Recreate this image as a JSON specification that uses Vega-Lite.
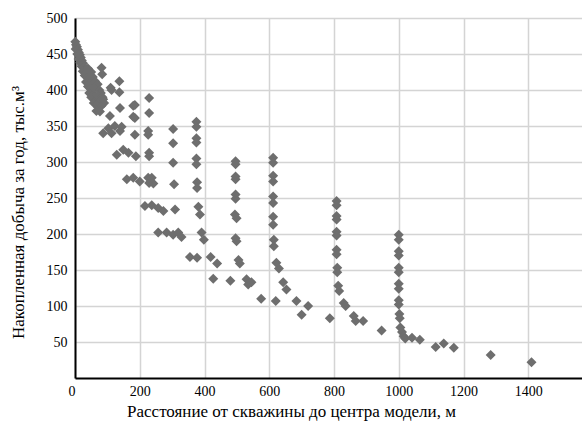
{
  "$schema": "https://vega.github.io/schema/vega-lite/v6.json",
  "width": 507,
  "height": 360,
  "autosize": "none",
  "padding": {"left": 75, "top": 18, "right": 0, "bottom": 46},
  "background": "white",
  "config": {"view": {"stroke": null}, "font": "Liberation Serif"},
  "data": {"values": [
    {"x":1,"y":467},{"x":3,"y":463},{"x":6,"y":460},{"x":2,"y":457},{"x":9,"y":456},{"x":12,"y":452},{"x":7,"y":450},{"x":15,"y":449},{"x":18,"y":445},{"x":11,"y":443},{"x":21,"y":441},{"x":16,"y":438},{"x":25,"y":437},{"x":20,"y":433},{"x":28,"y":432},{"x":32,"y":428},{"x":24,"y":426},{"x":35,"y":424},{"x":30,"y":420},{"x":38,"y":418},{"x":42,"y":414},{"x":34,"y":411},{"x":45,"y":409},{"x":40,"y":405},{"x":48,"y":402},{"x":52,"y":399},{"x":44,"y":396},{"x":56,"y":394},{"x":50,"y":390},{"x":60,"y":389},{"x":64,"y":385},{"x":58,"y":382},{"x":68,"y":380},{"x":72,"y":376},{"x":66,"y":371},
    {"x":40,"y":430},{"x":50,"y":425},{"x":55,"y":418},{"x":62,"y":412},{"x":70,"y":408},{"x":60,"y":403},{"x":75,"y":400},{"x":80,"y":396},{"x":70,"y":392},{"x":85,"y":390},{"x":78,"y":386},{"x":90,"y":382},{"x":82,"y":378},
    {"x":82,"y":431},{"x":84,"y":422},{"x":113,"y":400},{"x":110,"y":403},{"x":137,"y":412},{"x":137,"y":397},{"x":139,"y":375},{"x":87,"y":387},{"x":77,"y":370},{"x":108,"y":364},{"x":180,"y":378},{"x":180,"y":363},
    {"x":229,"y":389},{"x":229,"y":368},{"x":226,"y":343},{"x":226,"y":338},{"x":229,"y":313},{"x":229,"y":308},{"x":226,"y":278},{"x":229,"y":271},
    {"x":185,"y":379},{"x":185,"y":361},{"x":185,"y":338},{"x":188,"y":308},{"x":144,"y":349},{"x":123,"y":350},{"x":103,"y":347},{"x":87,"y":340},{"x":113,"y":340},{"x":139,"y":343},
    {"x":129,"y":310},{"x":149,"y":317},{"x":165,"y":313},{"x":160,"y":276},{"x":180,"y":278},{"x":200,"y":273},{"x":242,"y":270},{"x":237,"y":278},{"x":216,"y":239},{"x":237,"y":240},{"x":257,"y":236},{"x":273,"y":232},
    {"x":303,"y":346},{"x":303,"y":326},{"x":303,"y":299},{"x":306,"y":269},{"x":309,"y":234},
    {"x":375,"y":356},{"x":375,"y":349},{"x":375,"y":333},{"x":375,"y":327},{"x":375,"y":305},{"x":375,"y":297},{"x":377,"y":272},{"x":377,"y":264},{"x":381,"y":238},{"x":386,"y":227},{"x":391,"y":202},{"x":398,"y":192},
    {"x":257,"y":202},{"x":283,"y":202},{"x":303,"y":199},{"x":319,"y":202},{"x":329,"y":196},
    {"x":355,"y":168},{"x":377,"y":167},{"x":419,"y":168},{"x":439,"y":159},
    {"x":427,"y":138},{"x":480,"y":135},{"x":530,"y":137},{"x":535,"y":130},{"x":545,"y":133},{"x":575,"y":110},
    {"x":496,"y":301},{"x":496,"y":297},{"x":496,"y":280},{"x":496,"y":276},{"x":496,"y":255},{"x":496,"y":249},{"x":494,"y":227},{"x":499,"y":222},{"x":496,"y":194},{"x":499,"y":190},{"x":505,"y":164},{"x":509,"y":159},
    {"x":612,"y":306},{"x":612,"y":299},{"x":612,"y":281},{"x":612,"y":273},{"x":612,"y":252},{"x":612,"y":243},{"x":612,"y":224},{"x":612,"y":213},{"x":614,"y":192},{"x":614,"y":183},{"x":622,"y":160},{"x":630,"y":152},{"x":643,"y":133},{"x":653,"y":123},
    {"x":620,"y":107},{"x":684,"y":107},{"x":700,"y":88},{"x":720,"y":100},{"x":787,"y":83},{"x":947,"y":66},
    {"x":808,"y":246},{"x":808,"y":240},{"x":808,"y":225},{"x":808,"y":220},{"x":808,"y":203},{"x":808,"y":198},{"x":808,"y":178},{"x":808,"y":172},{"x":810,"y":153},{"x":810,"y":147},{"x":813,"y":128},{"x":816,"y":121},{"x":830,"y":104},{"x":836,"y":100},{"x":861,"y":86},{"x":867,"y":79},{"x":890,"y":79},
    {"x":1000,"y":199},{"x":1000,"y":192},{"x":1000,"y":176},{"x":1000,"y":170},{"x":1000,"y":153},{"x":1000,"y":147},{"x":1000,"y":131},{"x":1000,"y":124},{"x":1000,"y":108},{"x":1000,"y":102},{"x":1002,"y":89},{"x":1003,"y":83},{"x":1005,"y":70},{"x":1010,"y":64},{"x":1015,"y":58},{"x":1020,"y":55},
    {"x":1041,"y":56},{"x":1065,"y":53},{"x":1114,"y":43},{"x":1139,"y":48},{"x":1170,"y":42},{"x":1284,"y":32},{"x":1410,"y":22}
  ]},
  "mark": {"type": "point", "shape": "diamond", "filled": true, "size": 100, "color": "#6e6e6e", "opacity": 1},
  "encoding": {
    "x": {
      "field": "x", "type": "quantitative",
      "scale": {"domain": [0, 1566], "nice": false, "zero": true},
      "axis": {
        "values": [0, 200, 400, 600, 800, 1000, 1200, 1400],
        "format": "d",
        "title": "Расстояние от скважины до центра модели, м",
        "grid": true, "gridColor": "#d4d4d4", "gridWidth": 1.5,
        "domainColor": "#000000", "domainWidth": 2,
        "ticks": false,
        "labelFont": "Liberation Serif", "labelFontSize": 14, "labelColor": "#000000", "labelPadding": 6,
        "labelAlign": {"condition": {"test": "datum.value === 0", "value": "right"}, "value": "center"},
        "titleFont": "Liberation Serif", "titleFontSize": 17, "titleFontWeight": "normal", "titleColor": "#000000",
        "titleX": 216, "titleY": 38, "titleBaseline": "alphabetic", "titleAnchor": "middle", "titleAlign": "center"
      }
    },
    "y": {
      "field": "y", "type": "quantitative",
      "scale": {"domain": [0, 500], "nice": false},
      "axis": {
        "values": [50, 100, 150, 200, 250, 300, 350, 400, 450, 500],
        "title": "Накопленная добыча за год, тыс.м³",
        "grid": true, "gridColor": "#d4d4d4", "gridWidth": 1.5,
        "domainColor": "#000000", "domainWidth": 2,
        "ticks": false,
        "labelFont": "Liberation Serif", "labelFontSize": 14, "labelColor": "#000000", "labelPadding": 8,
        "titleFont": "Liberation Serif", "titleFontSize": 17, "titleFontWeight": "normal", "titleColor": "#000000",
        "titleX": -57, "titleY": 194, "titleBaseline": "middle", "titleAngle": -90, "titleAlign": "center"
      }
    }
  }
}
